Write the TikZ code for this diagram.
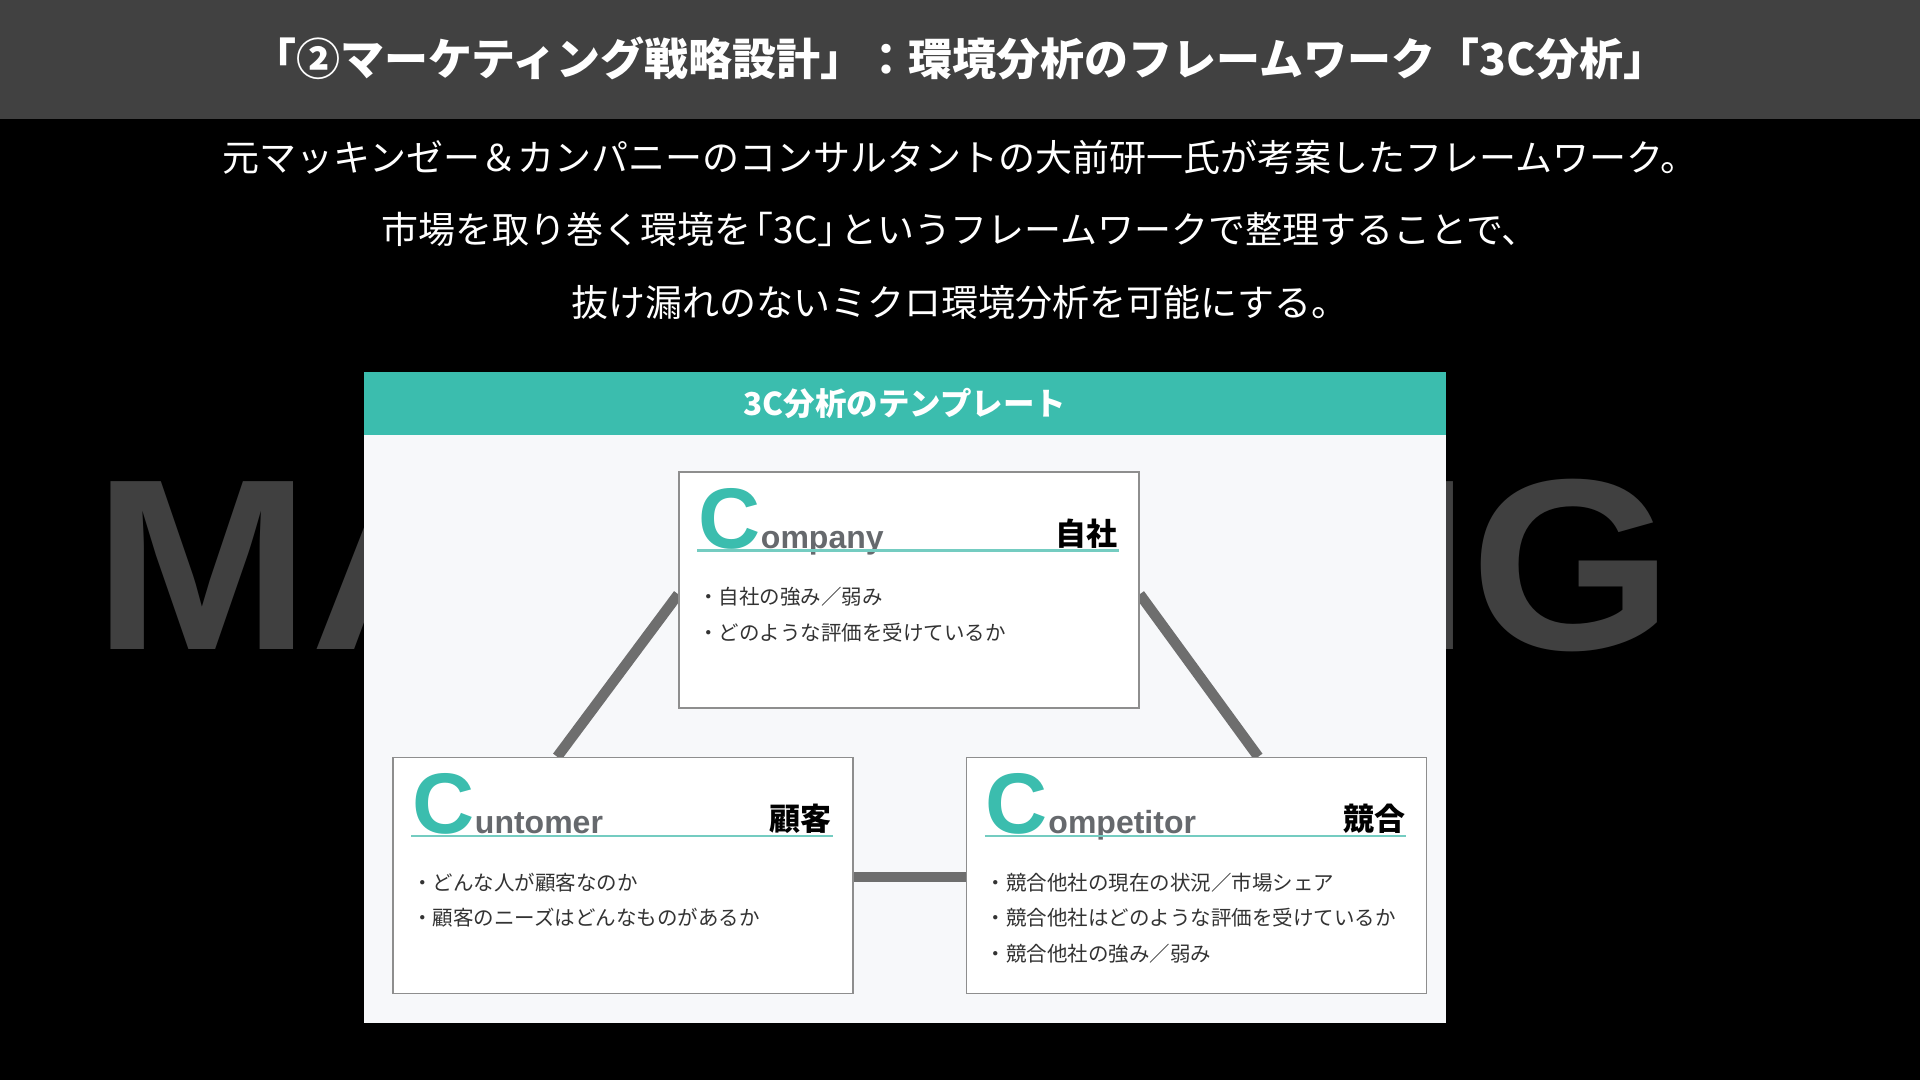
\documentclass[tikz,border=0pt]{standalone}
\usepackage{fontspec}
\setmainfont{Liberation Sans}
\newfontfamily\jpfont{Noto Sans CJK JP}
\newfontfamily\latinfont{Liberation Sans}
\definecolor{titlegray}{HTML}{414141}
\definecolor{markgray}{HTML}{404040}
\definecolor{tealhead}{HTML}{3BBDAE}
\definecolor{teallight}{HTML}{74CCC1}
\definecolor{panelbg}{HTML}{F7F8FA}
\definecolor{boxline}{HTML}{8E8E8E}
\definecolor{wordgray}{HTML}{66696D}
\definecolor{textdark}{HTML}{333333}
\definecolor{linkgray}{HTML}{6E6E6E}
\usetikzlibrary{positioning}
\pgfdeclarelayer{front}
\pgfsetlayers{main,front}

\begin{document}
\begin{tikzpicture}[x=1pt, y=-1pt,
      headline/.style={text=white, inner sep=0,
                  font=\jpfont\bfseries\fontsize{44}{44}\selectfont},
      lead/.style={text=white, inner sep=0, text height=32pt, text depth=5pt,
                  font=\jpfont\fontsize{37}{37}\selectfont},
      watermark/.style={anchor=base west, inner sep=0, xscale=1.07, text=markgray,
                  font=\latinfont\bfseries\fontsize{244}{244}\selectfont},
      panel/.style={fill=panelbg, inner sep=0,
                  minimum width=1082pt, minimum height=651pt},
      panelhead/.style={fill=tealhead, text=white, inner sep=0,
                  minimum width=1082pt, minimum height=63pt,
                  font=\jpfont\bfseries\fontsize{31.5}{31.5}\selectfont},
      cbox/.style={draw=boxline, line width=1.5pt, fill=white, inner sep=0,
                  minimum width=460pt, minimum height=236pt},
      bigc/.style={anchor=base west, inner sep=0, text=tealhead,
                  font=\latinfont\bfseries\fontsize{86}{86}\selectfont},
      word/.style={anchor=base west, inner sep=0, text=wordgray,
                  font=\latinfont\bfseries\fontsize{32}{32}\selectfont},
      tag/.style={anchor=base east, inner sep=0, text=black,
                  font=\jpfont\bfseries\fontsize{31}{31}\selectfont},
      items/.style={anchor=north west, align=left, inner sep=0, text=textdark,
                  font=\jpfont\fontsize{20.5}{35.5}\selectfont},
      rule/.style={draw=teallight, line width=2.5pt},
      link/.style={draw=linkgray, line width=10.5pt}
  ]
    \useasboundingbox (0,0) rectangle (1920,1080);
    \fill[black] (0,0) rectangle (1920,1080);
    \fill[titlegray] (0,0) rectangle (1920,119);

    % heading and lead text
    \node[headline] (title) at (960,58) {「②マーケティング戦略設計」：環境分析のフレームワーク「3C分析」};
    \node[lead] (lead1) at (960,158) {元マッキンゼー＆カンパニーのコンサルタントの大前研一氏が考案したフレームワーク。};
    \node[lead, below=35pt of lead1] (lead2) {市場を取り巻く環境を\kern-0.4em「3C」\kern-0.4em というフレームワークで整理することで、};
    \node[lead, below=35pt of lead2] (lead3) {抜け漏れのないミクロ環境分析を可能にする。};

    % watermark behind the panel
    \node[watermark] (markword) at (93,649) {MARKETING};

    % template panel
    \node[panel] (panel) at (905,697.5) {};
    \node[panelhead, anchor=north] (head) at (panel.north) {3C分析のテンプレート};

    \begin{pgfonlayer}{front}
    \node[cbox] (comp) at (909,590) {};
    \node[cbox] (cust) at (623,875.5) {};
    \node[cbox, right=112pt of cust] (compt) {};

    \foreach \bx/\rest/\tagtext in {comp/ompany/自社, cust/untomer/顧客, compt/ompetitor/競合} {
      \node[bigc] (\bx-c) at ([xshift=20pt,yshift=-77pt]\bx.north west) {C};
      \node[word] (\bx-w) at (\bx-c.base east) {\rest};
      \node[tag] (\bx-t) at ([xshift=-22pt,yshift=-74pt]\bx.north east) {\tagtext};
      \draw[rule] ([xshift=19pt,yshift=-79pt]\bx.north west) -- ([xshift=-21pt,yshift=-79pt]\bx.north east);
    }

    \node[items] (comp-i) at ([xshift=20pt,yshift=-116pt]comp.north west)
      {・自社の強み／弱み\\・どのような評価を受けているか};
    \node[items] (cust-i) at ([xshift=20pt,yshift=-116pt]cust.north west)
      {・どんな人が顧客なのか\\・顧客のニーズはどんなものがあるか};
    \node[items] (compt-i) at ([xshift=20pt,yshift=-116pt]compt.north west)
      {・競合他社の現在の状況／市場シェア\\・競合他社はどのような評価を受けているか\\・競合他社の強み／弱み};
    \end{pgfonlayer}

    % connectors, under the boxes
    \draw[link] ([yshift=-123pt]comp.north west) -- ([xshift=165pt]cust.north west);
    \draw[link] ([yshift=-123pt]comp.north east) -- ([xshift=-169pt]compt.north east);
    \draw[link] ([yshift=-120pt]cust.north east) -- ([yshift=-120pt]compt.north west);
  \end{tikzpicture}
\end{document}
